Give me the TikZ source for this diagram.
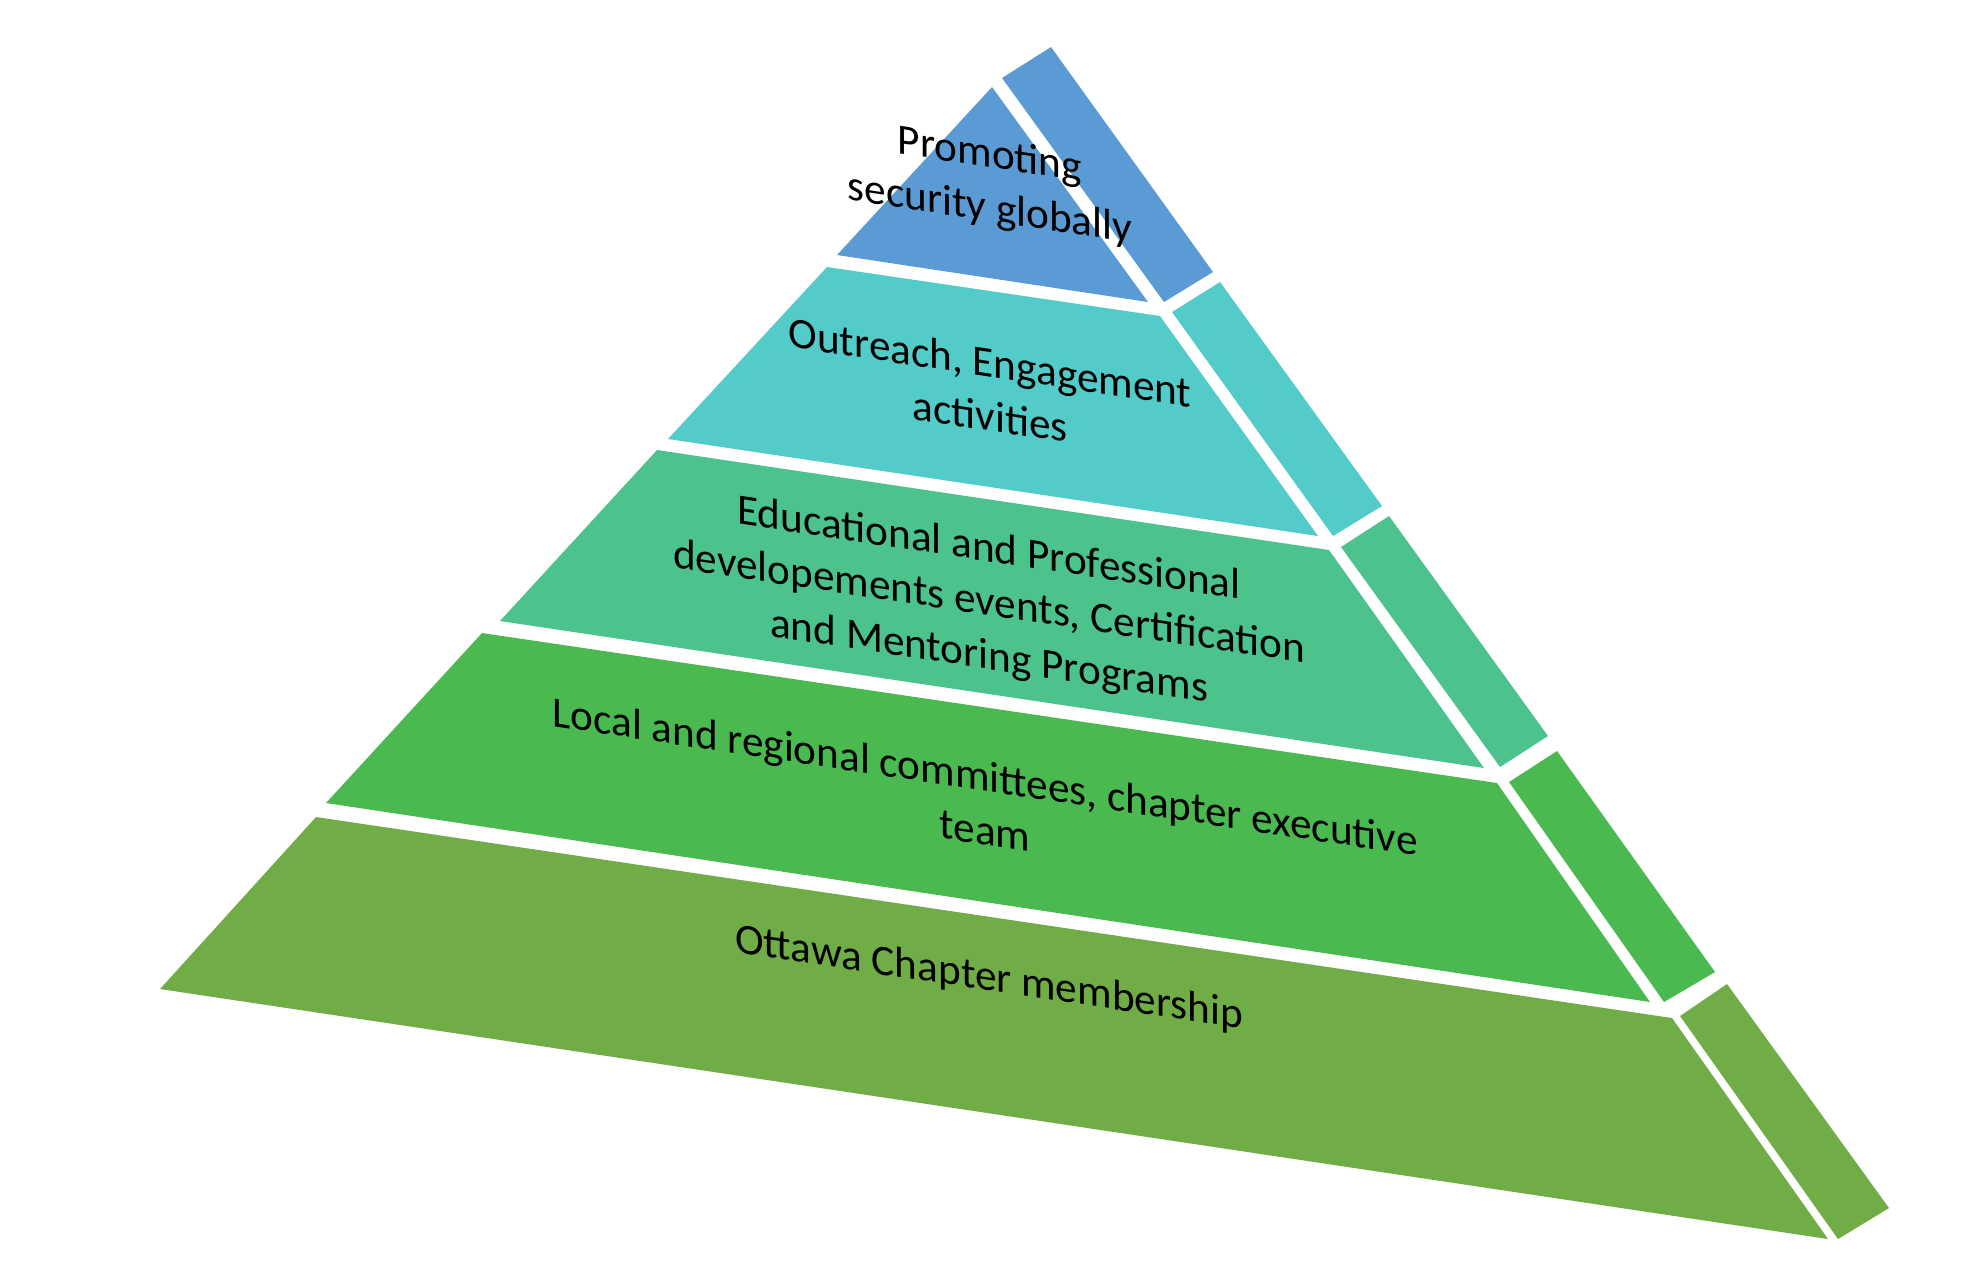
\documentclass[tikz,border=0pt]{standalone}
\usepackage{fontspec}
\setmainfont{Carlito}
\usepackage{tikz}
\definecolor{tierblue}{RGB}{91,155,213}
\definecolor{tiercyan}{RGB}{83,203,201}
\definecolor{tierteal}{RGB}{76,195,140}
\definecolor{tiergreen}{RGB}{73,185,80}
\definecolor{tierolive}{RGB}{112,173,71}

\begin{document}
\begin{tikzpicture}[x=0.01cm,y=-0.01cm,
  lbl/.style={align=center,inner sep=0pt,yslant=-0.15,font=\fontsize{12.3}{15.3}\selectfont}]
\useasboundingbox (0,0) rectangle (1980,1265);
% top tier
\fill[tierblue] (992,87) -- (1148,302) -- (837,255) -- cycle;
\fill[tierblue] (1002,78) -- (1051,47) -- (1213,272) -- (1164,302) -- cycle;
\node[lbl] (global) at (990,183) {Promoting\\security globally};
% second tier
\fill[tiercyan] (827,267) -- (1160,316) -- (1318,536) -- (668,439) -- cycle;
\fill[tiercyan] (1172,312) -- (1220,282) -- (1382,506) -- (1333,536) -- cycle;
\node[lbl] (outreach) at (990,389) {Outreach, Engagement\\activities};
% third tier
\fill[tierteal] (657,450) -- (1329,550) -- (1484,768) -- (500,621) -- cycle;
\fill[tierteal] (1341,547) -- (1389,516) -- (1548,736) -- (1500,767) -- cycle;
\node[lbl] (educ) at (989,604) {Educational and Professional\\developements events, Certification\\and Mentoring Programs};
% fourth tier
\fill[tiergreen] (482,633) -- (1497,783) -- (1650,1002) -- (326,803) -- cycle;
\fill[tiergreen] (1509,782) -- (1557,751) -- (1715,972) -- (1664,1002) -- cycle;
\node[lbl] (local) at (985,803) {Local and regional committees, chapter executive\\team};
% base tier
\fill[tierolive] (316,817) -- (1672,1018) -- (1828,1239) -- (160,989) -- cycle;
\fill[tierolive] (1680,1016) -- (1727,984) -- (1889,1208) -- (1838,1239) -- cycle;
\node[lbl] (member) at (989,979) {Ottawa Chapter membership};
\end{tikzpicture}
\end{document}
